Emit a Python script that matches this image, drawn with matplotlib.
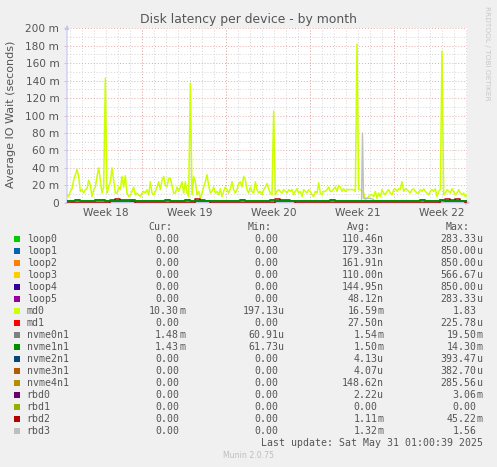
import numpy as np
import matplotlib.pyplot as plt
from matplotlib.ticker import FuncFormatter

W, H = 497, 467

# md0 latency in ms, one reading every ~3.3 h across the 800 h month window
md0 = [9, 7, 13, 16, 26, 32, 38, 30, 13, 15,
       11, 15, 16, 26, 20, 7, 15, 18, 30, 40,
       26, 11, 18, 143, 11, 18, 24, 40, 26, 11,
       11, 18, 15, 30, 18, 31, 11, 7, 9, 13,
       18, 9, 11, 9, 7, 11, 13, 11, 15, 9,
       24, 11, 9, 13, 18, 24, 15, 26, 30, 20,
       18, 28, 28, 20, 11, 11, 18, 13, 18, 24,
       11, 24, 11, 7, 137, 9, 30, 24, 9, 13,
       5, 11, 18, 24, 32, 20, 11, 13, 18, 11,
       13, 9, 16, 7, 13, 18, 15, 11, 16, 24,
       15, 11, 15, 22, 24, 18, 30, 26, 15, 11,
       18, 13, 11, 24, 15, 11, 13, 9, 15, 18,
       22, 16, 11, 9, 105, 9, 13, 15, 13, 11,
       15, 13, 11, 15, 13, 15, 9, 13, 16, 11,
       13, 7, 15, 13, 11, 15, 13, 9, 7, 13,
       11, 23, 11, 9, 13, 13, 15, 18, 13, 13,
       16, 18, 13, 20, 18, 13, 16, 13, 15, 15,
       15, 15, 15, 13, 182, 15, 15, 14, 11, 3,
       5, 7, 9, 9, 7, 13, 5, 11, 7, 15,
       11, 9, 13, 15, 11, 9, 15, 16, 13, 16,
       15, 24, 13, 16, 15, 13, 11, 15, 16, 13,
       11, 11, 15, 13, 16, 13, 11, 9, 13, 15,
       13, 16, 7, 13, 15, 174, 9, 11, 15, 13,
       11, 16, 13, 9, 11, 15, 11, 9, 11, 7,
       9]

# low series, one reading every 10 h (ms)
nvme0n1 = [1.5, 1.5, 1.5, 2.5, 1.5, 1.5, 1.5, 1.5, 1.5, 1.5,
           2.5, 1.5, 1.5, 1.5, 1.5, 1.5, 1.5, 2.5, 1.5, 1.5,
           1.5, 1.5, 1.5, 1.5, 1.5, 1.5, 1.5, 2.5, 1.5, 1.5,
           1.5, 1.5, 1.5, 1.5, 1.5, 1.5, 1.5, 1.5, 1.5, 1.5,
           1.5, 1.5, 1.5, 1.5, 1.5, 2.5, 1.5, 1.5, 1.5, 1.5,
           1.5, 1.5, 1.5, 1.5, 1.5, 1.5, 1.5, 1.5, 1.5, 1.5,
           2.5, 1.5, 1.5, 1.5, 1.5, 1.5, 2.5, 1.5, 1.5, 1.5,
           1.5, 1.5, 1.5, 1.5, 1.5, 1.5, 1.5, 1.5, 1.5, 1.5,
           1.5]
nvme1n1 = [1.4, 1.4, 2.8, 1.4, 1.4, 1.4, 2.8, 2.8, 1.4, 1.4,
           1.4, 1.4, 1.4, 2.8, 1.4, 1.4, 1.4, 1.4, 1.4, 1.4,
           2.8, 1.4, 1.4, 1.4, 2.8, 1.4, 1.4, 1.4, 1.4, 1.4,
           1.4, 1.4, 1.4, 1.4, 1.4, 2.8, 1.4, 1.4, 1.4, 1.4,
           1.4, 2.8, 1.4, 1.4, 1.4, 1.4, 1.4, 1.4, 1.4, 1.4,
           1.4, 1.4, 1.4, 2.8, 1.4, 1.4, 1.4, 1.4, 1.4, 1.4,
           1.4, 1.4, 1.4, 1.4, 1.4, 1.4, 1.4, 1.4, 1.4, 1.4,
           1.4, 2.8, 1.4, 1.4, 1.4, 2.8, 1.4, 1.4, 1.4, 1.4,
           1.4]
rbd2 = [0, 0, 0, 0, 0, 0, 0, 0, 0, 3.5,
        4.5, 3, 3.5, 2.5, 0, 0, 0, 0, 0, 0,
        0, 0, 0, 0, 0, 0, 4, 3, 2.5, 0,
        0, 0, 0, 0, 0, 0, 0, 0, 0, 0,
        0, 0, 4, 3.5, 3, 2.5, 0, 0, 0, 0,
        0, 0, 0, 0, 0, 0, 0, 0, 0, 0,
        0, 0, 0, 0, 0, 0, 0, 0, 0, 0,
        0, 0, 0, 0, 0, 3.5, 4.5, 3, 4, 2.5,
        0]
# rbd3 readings (hour, ms)
rbd3_hours = [0, 589, 591, 593, 606, 612, 620, 800]
rbd3 = [0, 0, 80, 5, 5, 4, 0, 0]

week_labels = ['Week 18', 'Week 19', 'Week 20', 'Week 21', 'Week 22']
week_label_hours = [78, 246, 414, 582, 750]
week_line_hours = [150, 318, 486, 654]

# legend table
names = ['loop0', 'loop1', 'loop2', 'loop3', 'loop4', 'loop5', 'md0', 'md1',
         'nvme0n1', 'nvme1n1', 'nvme2n1', 'nvme3n1', 'nvme4n1',
         'rbd0', 'rbd1', 'rbd2', 'rbd3']
colors = ['#00CC00', '#0066B3', '#FF8000', '#FFCC00', '#330099', '#990099',
          '#CCFF00', '#FF0000', '#808080', '#008F00', '#00487D', '#B35A00',
          '#B38F00', '#6B006B', '#8FB300', '#B30000', '#BEBEBE']
cur = ['0.00', '0.00', '0.00', '0.00', '0.00', '0.00', '10.30m', '0.00',
       '1.48m', '1.43m', '0.00', '0.00', '0.00', '0.00', '0.00', '0.00', '0.00']
mins = ['0.00', '0.00', '0.00', '0.00', '0.00', '0.00', '197.13u', '0.00',
        '60.91u', '61.73u', '0.00', '0.00', '0.00', '0.00', '0.00', '0.00', '0.00']
avg = ['110.46n', '179.33n', '161.91n', '110.00n', '144.95n', '48.12n', '16.59m',
       '27.50n', '1.54m', '1.50m', '4.13u', '4.07u', '148.62n', '2.22u', '0.00',
       '1.11m', '1.32m']
maxs = ['283.33u', '850.00u', '850.00u', '566.67u', '850.00u', '283.33u', '1.83',
        '225.78u', '19.50m', '14.30m', '393.47u', '382.70u', '285.56u', '3.06m',
        '0.00', '45.22m', '1.56']


def fx(px):
    return px / W


def fy(py):
    return 1 - py / H


fig = plt.figure(figsize=(W / 100, H / 100), dpi=100, facecolor='#F0F0F0')
ax = fig.add_axes([fx(67), fy(202.7), fx(400), 174.4 / H], facecolor='white')

# grid
grid_kw = dict(lw=0.7, ls=(0, (1, 2)), zorder=0.5)
for h in range(6, 800, 24):
    ax.axvline(h, color='#D4D4D4', **grid_kw)
for v in range(10, 201, 20):
    ax.axhline(v, color='#D4D4D4', **grid_kw)
for v in range(20, 201, 20):
    ax.axhline(v, color='#E9A9A9', **grid_kw)
for h in week_line_hours:
    ax.axvline(h, color='#E9A9A9', **grid_kw)

t_md0 = np.linspace(0, 800, len(md0))
t_low = np.linspace(0, 800, len(nvme1n1))
ax.plot(t_md0, md0, color=colors[6], lw=1.1, zorder=2)
ax.plot(rbd3_hours, rbd3, color=colors[16], lw=1.0, zorder=3)
ax.plot(t_low, nvme0n1, color=colors[8], lw=1.0, drawstyle='steps-mid', zorder=3)
ax.plot(t_low, rbd2, color=colors[15], lw=1.1, drawstyle='steps-mid', zorder=3.2)
ax.plot(t_low, nvme1n1, color=colors[9], lw=1.4, drawstyle='steps-mid', zorder=4)

ax.set_xlim(0, 800)
ax.set_ylim(0, 200)
for s in ax.spines.values():
    s.set_visible(False)

ax.set_yticks(range(0, 201, 20))
ax.yaxis.set_major_formatter(FuncFormatter(lambda v, p: '0' if v == 0 else f'{int(v)} m'))
ax.tick_params(axis='y', length=2, width=0.7, color='#C8C8C8', pad=3.5,
               labelsize=7.6, labelcolor='#555555')
ax.set_xticks(week_label_hours)
ax.set_xticklabels(week_labels)
ax.tick_params(axis='x', length=0, pad=4, labelsize=7.6, labelcolor='#555555')

arrow = dict(arrowstyle='-|>', color='#C4C4F4', lw=0.8, mutation_scale=6)
ax.annotate('', xy=(1.015, 0), xytext=(-0.01, 0), xycoords='axes fraction',
            arrowprops=arrow, annotation_clip=False)
ax.annotate('', xy=(0, 1.035), xytext=(0, -0.02), xycoords='axes fraction',
            arrowprops=arrow, annotation_clip=False)

fig.text(fx(248), fy(19), 'Disk latency per device - by month', ha='center', va='center',
         fontsize=8.9, color='#555555')
fig.text(fx(10.7), fy(114), 'Average IO Wait (seconds)', rotation=90, ha='center',
         va='center', fontsize=8.0, color='#555555')
fig.text(fx(487), fy(53), 'RRDTOOL / TOBI OETIKER', rotation=270, ha='center',
         va='center', fontsize=5.3, color='#C8C8C8')

mono = dict(family='DejaVu Sans Mono', fontsize=7.1, color='#555555', va='center')
hy = 227.3
for label, right in [('Cur:', 172.7), ('Min:', 271.7), ('Avg:', 371), ('Max:', 470)]:
    fig.text(fx(right), fy(hy), label, ha='right', **mono)


def put_value(s, col_end, y):
    if s[-1].isalpha():
        num, unit = s[:-1], s[-1]
    else:
        num, unit = s, ''
    fig.text(fx(col_end), fy(y), num, ha='right', **mono)
    if unit:
        fig.text(fx(col_end), fy(y), unit, ha='left', **mono)


for i, name in enumerate(names):
    y = 239.3 + 12 * i
    fig.patches.append(plt.Rectangle((fx(14), fy(y + 3)), fx(6), 6 / H,
                                     transform=fig.transFigure, facecolor=colors[i],
                                     edgecolor='none'))
    fig.text(fx(26.7), fy(y), name, ha='left', **mono)
    put_value(cur[i], 179, y)
    put_value(mins[i], 278.3, y)
    put_value(avg[i], 377.3, y)
    put_value(maxs[i], 476.7, y)

fig.text(fx(482.7), fy(443.3), 'Last update: Sat May 31 01:00:39 2025', ha='right', **mono)
fig.text(fx(248), fy(456), 'Munin 2.0.75', ha='center', va='center', fontsize=5.6,
         color='#BEBEBE')

fig.savefig('out.png', dpi=100, facecolor=fig.get_facecolor())
